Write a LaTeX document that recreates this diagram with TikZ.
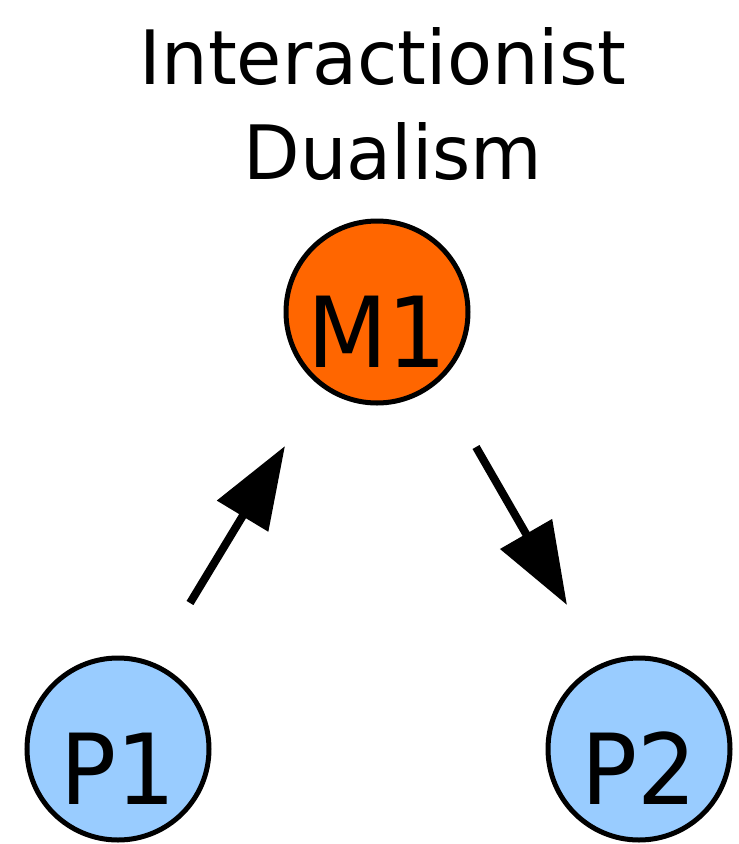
\documentclass[tikz,border=0pt]{standalone}
\usepackage{fontspec}
\setmainfont{DejaVu Sans}
\usetikzlibrary{arrows.meta}
\definecolor{mindorange}{HTML}{FF6600}
\definecolor{physblue}{HTML}{99CCFF}
\newcommand{\narrowtext}[1]{\scalebox{0.95}[1]{#1}}
\tikzset{
  entity/.style={circle, draw=black, line width=5pt, minimum size=182pt, inner sep=0pt,
    font=\fontsize{98pt}{110pt}\selectfont, text height=110pt, text depth=0pt},
  causal/.style={line width=8pt, -{Triangle[length=82pt,width=58pt]}},
  titletext/.style={font=\fontsize{75pt}{90pt}\selectfont, anchor=base, inner sep=0pt}
}
\begin{document}
\begin{tikzpicture}[x=1pt,y=-1pt]
\useasboundingbox (0,0) rectangle (739,844);
\node[titletext] (t1) at (383,84) {\scalebox{0.98}[1]{Interactionist}};
\node[titletext] (t2) at (393,179) {\scalebox{0.98}[1]{Dualism}};
\node[entity, fill=mindorange] (M1) at (377,312) {\narrowtext{M1}};
\node[entity, fill=physblue] (P1) at (118,749) {\narrowtext{P1}};
\node[entity, fill=physblue] (P2) at (639,749) {\narrowtext{P2}};
\coordinate (a1s) at (190,603);
\coordinate (a1e) at (285,446);
\coordinate (a2s) at (476,447);
\coordinate (a2e) at (567,605);
\draw[causal] (a1s) -- (a1e);
\draw[causal] (a2s) -- (a2e);
\end{tikzpicture}
\end{document}
